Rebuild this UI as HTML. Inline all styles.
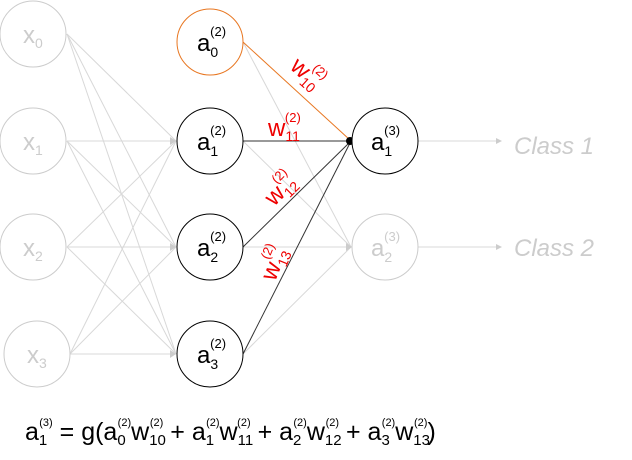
<!DOCTYPE html>
<html><head><meta charset="utf-8"><style>body{margin:0;background:#fff}svg{display:block}</style></head><body>
<svg width="632" height="460" viewBox="0 0 632 460" font-family="Liberation Sans, sans-serif">
<g stroke="#d8d8d8" stroke-width="1" fill="none">
<line x1="67" y1="34" x2="176" y2="141"/><line x1="67" y1="34" x2="176" y2="247"/><line x1="67" y1="34" x2="176" y2="354"/>
<line x1="67" y1="141" x2="176" y2="141"/><line x1="67" y1="141" x2="176" y2="247"/><line x1="67" y1="141" x2="176" y2="354"/>
<line x1="67" y1="247" x2="176" y2="141"/><line x1="67" y1="247" x2="176" y2="247"/><line x1="67" y1="247" x2="176" y2="354"/>
<line x1="70" y1="354" x2="176" y2="141"/><line x1="70" y1="354" x2="176" y2="247"/><line x1="70" y1="354" x2="176" y2="354"/>
<line x1="243" y1="42" x2="351" y2="247"/><line x1="243" y1="141" x2="351" y2="247"/><line x1="243" y1="247" x2="351" y2="247"/><line x1="243" y1="354" x2="351" y2="247"/>
<line x1="418" y1="141" x2="500" y2="141"/><line x1="418" y1="247" x2="500" y2="247"/>
</g>
<g fill="#cccccc">
<path d="M176 141 l-6 -4 v8z"/><path d="M176 247 l-6 -4 v8z"/><path d="M176 354 l-6 -4 v8z"/><path d="M352 247 l-6 -4 v8z"/>
<path d="M502 141 l-6 -3 v6z"/><path d="M502 247 l-6 -3 v6z"/>
</g>
<line x1="243" y1="42" x2="350" y2="140" stroke="#e87722" stroke-width="1"/>
<g stroke="#333" stroke-width="1">
<line x1="243" y1="141" x2="350" y2="141"/><line x1="243" y1="247" x2="350" y2="142"/><line x1="243" y1="354" x2="350" y2="143"/>
</g>
<circle cx="350" cy="141" r="4" fill="#000"/>
<g fill="#fff" stroke="#ccc" stroke-width="1">
<circle cx="33" cy="34" r="33"/><circle cx="33" cy="141" r="33"/><circle cx="33" cy="247" r="33"/><circle cx="37" cy="354" r="33"/>
<circle cx="385" cy="247" r="33"/>
</g>
<circle cx="210" cy="42" r="33" fill="#fff" stroke="#e87722"/>
<g fill="#fff" stroke="#000"><circle cx="210" cy="141" r="33"/><circle cx="210" cy="247" r="33"/><circle cx="210" cy="354" r="33"/><circle cx="385" cy="141" r="33"/></g>
<g fill="#ccc" font-size="24">
<text x="23" y="43">x<tspan font-size="14" dy="5">0</tspan></text>
<text x="23" y="150">x<tspan font-size="14" dy="5">1</tspan></text>
<text x="23" y="256">x<tspan font-size="14" dy="5">2</tspan></text>
<text x="27" y="363">x<tspan font-size="14" dy="5">3</tspan></text>
<text x="371" y="256">a<tspan font-size="14" dy="6">2</tspan><tspan font-size="13" dx="-8" dy="-21">(3)</tspan></text>
</g>
<g fill="#000" font-size="24">
<text x="197" y="51">a<tspan font-size="14" dy="6">0</tspan><tspan font-size="13" dx="-8" dy="-21">(2)</tspan></text>
<text x="197" y="150">a<tspan font-size="14" dy="6">1</tspan><tspan font-size="13" dx="-8" dy="-21">(2)</tspan></text>
<text x="197" y="256">a<tspan font-size="14" dy="6">2</tspan><tspan font-size="13" dx="-8" dy="-21">(2)</tspan></text>
<text x="197" y="363">a<tspan font-size="14" dy="6">3</tspan><tspan font-size="13" dx="-8" dy="-21">(2)</tspan></text>
<text x="371" y="150">a<tspan font-size="14" dy="6">1</tspan><tspan font-size="13" dx="-8" dy="-21">(3)</tspan></text>
</g>
<g fill="#ccc" font-size="24" font-style="italic"><text x="514" y="154">Class 1</text><text x="514" y="256">Class 2</text></g>
<g fill="#e00" font-size="24">
<text transform="translate(289,68) rotate(42)">w<tspan font-size="14" dy="5">10</tspan><tspan font-size="13" dx="-15" dy="-19">(2)</tspan></text>
<text x="268" y="136">w<tspan font-size="14" dy="5">11</tspan><tspan font-size="13" dx="-15" dy="-19">(2)</tspan></text>
<text transform="translate(274,207) rotate(-45)">w<tspan font-size="14" dy="5">12</tspan><tspan font-size="13" dx="-15" dy="-19">(2)</tspan></text>
<text transform="translate(275,282) rotate(-68)">w<tspan font-size="14" dy="5">13</tspan><tspan font-size="13" dx="-15" dy="-19">(2)</tspan></text>
</g>
<text x="25" y="440" font-size="25" fill="#000">a<tspan font-size="15" dy="5">1</tspan><tspan font-size="11" dx="-8" dy="-19">(3)</tspan><tspan dy="14"> = g(a</tspan><tspan font-size="15" dy="5">0</tspan><tspan font-size="11" dx="-8" dy="-19">(2)</tspan><tspan dy="14">w</tspan><tspan font-size="15" dy="5">10</tspan><tspan font-size="11" dx="-16" dy="-19">(2)</tspan><tspan dy="14"> + a</tspan><tspan font-size="15" dy="5">1</tspan><tspan font-size="11" dx="-8" dy="-19">(2)</tspan><tspan dy="14">w</tspan><tspan font-size="15" dy="5">11</tspan><tspan font-size="11" dx="-16" dy="-19">(2)</tspan><tspan dy="14"> + a</tspan><tspan font-size="15" dy="5">2</tspan><tspan font-size="11" dx="-8" dy="-19">(2)</tspan><tspan dy="14">w</tspan><tspan font-size="15" dy="5">12</tspan><tspan font-size="11" dx="-16" dy="-19">(2)</tspan><tspan dy="14"> + a</tspan><tspan font-size="15" dy="5">3</tspan><tspan font-size="11" dx="-8" dy="-19">(2)</tspan><tspan dy="14">w</tspan><tspan font-size="15" dy="5">13</tspan><tspan font-size="11" dx="-16" dy="-19">(2)</tspan><tspan dy="14">)</tspan></text>
</svg>
</body></html>
